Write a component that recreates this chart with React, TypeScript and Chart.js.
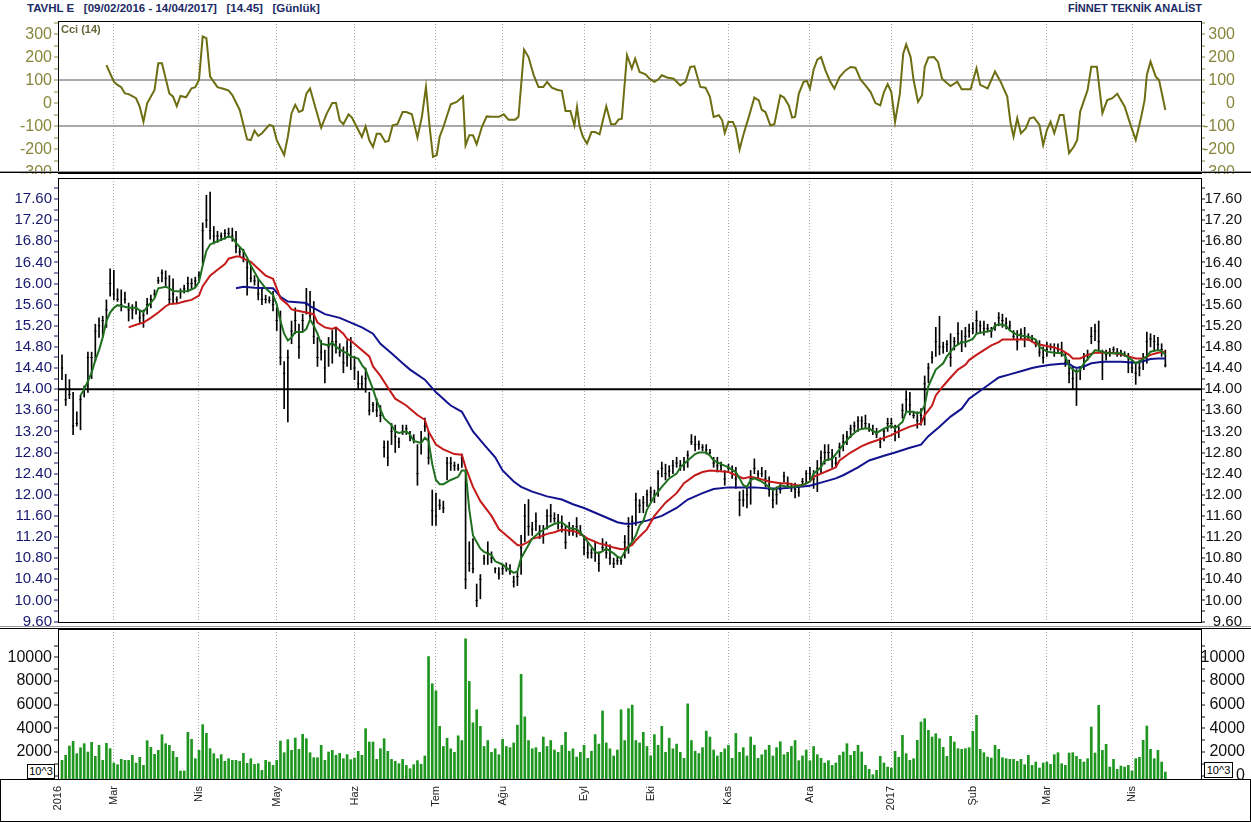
import { useEffect, useRef } from "react";
import { Chart, registerables } from "chart.js";

Chart.register(...registerables);

const FONT = '"Liberation Sans", Arial, Helvetica, sans-serif';

// ---------- axis labels ----------
// x = trading-day index (0 = first bar of the period)
const monthTicks = [-1, 14, 37, 58, 79, 101, 119, 141, 159, 180, 202, 224, 246, 266, 289];
const monthLabels = ["2016", "Mar", "Nis", "May", "Haz", "Tem", "Ağu", "Eyl", "Eki", "Kas", "Ara", "2017", "Şub", "Mar", "Nis"];
const cciTickLabels = [-300, -200, -100, 0, 100, 200, 300];
const cciBands = [100, -100];
const priceTickLabels = [9.6, 10.0, 10.4, 10.8, 11.2, 11.6, 12.0, 12.4, 12.8, 13.2, 13.6, 14.0, 14.4, 14.8, 15.2, 15.6, 16.0, 16.4, 16.8, 17.2, 17.6];
const volumeTickLabels = [0, 2000, 4000, 6000, 8000, 10000];
const supportLevel = 14.0;

// ---------- price bars ----------
const high = [
  14.65, 14.28, 14.18, 13.94, 13.57, 13.88, 14.06, 14.70, 14.70, 15.23,
  15.35, 15.38, 15.69, 16.28, 16.25, 15.90, 15.88, 15.84, 15.63, 15.60,
  15.66, 15.48, 15.50, 15.72, 15.78, 15.88, 16.12, 16.26, 16.24, 16.15,
  16.09, 15.75, 15.90, 15.97, 16.12, 16.09, 16.12, 16.22, 17.15, 17.67,
  17.73, 17.08, 16.99, 16.96, 17.02, 17.05, 17.05, 16.99, 16.68, 16.65,
  16.45, 16.34, 16.15, 16.09, 15.91, 15.78, 15.75, 15.85, 15.54, 15.48,
  14.52, 14.74, 15.29, 15.54, 15.23, 15.42, 15.91, 15.85, 15.66, 14.98,
  14.92, 14.74, 14.98, 15.11, 15.17, 14.86, 14.80, 14.92, 14.98, 14.62,
  14.34, 14.25, 14.40, 13.94, 13.75, 13.82, 13.69, 13.02, 13.02, 13.35,
  13.32, 13.08, 13.32, 13.32, 13.20, 13.14, 12.95, 13.20, 13.45, 13.20,
  12.09, 12.03, 11.91, 11.88, 12.71, 12.71, 12.62, 12.58, 12.77, 12.46,
  11.11, 11.17, 10.31, 10.49, 10.86, 11.11, 10.92, 10.62, 10.62, 10.68,
  10.71, 10.68, 10.46, 10.55, 11.23, 11.82, 11.91, 11.48, 11.66, 11.42,
  11.42, 11.72, 11.82, 11.66, 11.63, 11.60, 11.42, 11.48, 11.42, 11.57,
  11.42, 11.23, 11.11, 10.98, 11.11, 10.92, 11.17, 11.11, 11.05, 10.80,
  10.83, 10.80, 11.23, 11.57, 11.60, 12.03, 11.91, 11.97, 12.09, 12.15,
  12.09, 12.46, 12.62, 12.58, 12.55, 12.65, 12.71, 12.65, 12.71, 12.83,
  13.14, 13.11, 13.02, 12.95, 12.95, 12.86, 12.71, 12.71, 12.62, 12.46,
  12.58, 12.55, 12.52, 12.06, 12.09, 12.15, 12.46, 12.68, 12.46, 12.52,
  12.46, 12.34, 12.09, 12.15, 12.22, 12.43, 12.34, 12.22, 12.22, 12.15,
  12.31, 12.46, 12.52, 12.46, 12.65, 12.83, 12.95, 12.95, 12.86, 12.71,
  12.98, 13.14, 13.20, 13.32, 13.38, 13.48, 13.48, 13.51, 13.35, 13.32,
  13.26, 13.08, 13.26, 13.45, 13.45, 13.32, 13.29, 13.72, 13.97, 13.94,
  13.57, 13.57, 13.63, 14.25, 14.49, 14.71, 15.17, 15.38, 14.89, 14.92,
  15.05, 14.98, 15.26, 15.11, 15.17, 15.23, 15.26, 15.48, 15.29, 15.29,
  15.23, 15.17, 15.26, 15.45, 15.42, 15.35, 15.29, 15.11, 15.11, 15.14,
  15.17, 15.05, 15.02, 14.92, 14.92, 14.80, 14.89, 14.86, 14.86, 14.86,
  14.89, 14.68, 14.55, 14.43, 14.37, 14.43, 14.68, 14.74, 15.17, 15.23,
  15.29, 14.74, 14.74, 14.77, 14.80, 14.77, 14.74, 14.71, 14.68, 14.55,
  14.49, 14.55, 14.68, 15.08, 15.05, 15.02, 14.98, 14.86, 14.74,
];

const low = [
  14.18, 13.69, 13.82, 13.14, 13.30, 13.23, 13.85, 13.94, 14.20, 14.52,
  14.98, 15.00, 15.17, 15.76, 15.69, 15.66, 15.48, 15.63, 15.29, 15.33,
  15.42, 15.26, 15.17, 15.42, 15.54, 15.75, 16.00, 16.03, 15.96, 15.60,
  15.63, 15.63, 15.72, 15.82, 15.84, 15.90, 15.94, 16.03, 16.37, 17.06,
  16.84, 16.75, 16.78, 16.81, 16.84, 16.87, 16.80, 16.58, 16.53, 16.41,
  15.78, 16.03, 15.97, 15.69, 15.60, 15.63, 15.63, 15.48, 15.11, 14.46,
  13.63, 13.38, 14.86, 15.05, 14.58, 15.11, 15.42, 15.29, 14.86, 14.43,
  14.55, 14.12, 14.43, 14.49, 14.68, 14.62, 14.31, 14.43, 14.37, 14.18,
  14.00, 14.00, 13.94, 13.51, 13.57, 13.48, 13.38, 12.71, 12.55, 12.95,
  12.80, 12.89, 13.14, 13.14, 13.02, 12.98, 12.18, 12.77, 13.20, 12.58,
  11.42, 11.42, 11.72, 11.66, 12.28, 12.46, 12.46, 12.46, 12.52, 10.22,
  10.55, 10.52, 9.88, 10.03, 10.68, 10.68, 10.71, 10.52, 10.40, 10.49,
  10.55, 10.49, 10.25, 10.28, 10.49, 11.11, 11.23, 11.23, 11.32, 11.17,
  11.08, 11.35, 11.48, 11.48, 11.35, 11.29, 10.98, 11.23, 11.23, 11.20,
  11.23, 10.86, 10.80, 10.80, 10.74, 10.55, 10.92, 10.80, 10.68, 10.62,
  10.68, 10.68, 10.80, 10.89, 11.11, 11.42, 11.66, 11.66, 11.78, 11.85,
  11.85, 11.97, 12.34, 12.28, 12.34, 12.40, 12.52, 12.46, 12.46, 12.52,
  12.95, 12.83, 12.86, 12.83, 12.77, 12.77, 12.52, 12.43, 12.46, 12.18,
  12.46, 12.31, 12.12, 11.60, 11.78, 11.75, 11.82, 12.40, 12.31, 12.34,
  12.15, 11.97, 11.75, 11.82, 12.03, 12.25, 12.12, 12.06, 11.94, 11.97,
  12.15, 12.22, 12.28, 12.12, 12.06, 12.40, 12.58, 12.65, 12.52, 12.52,
  12.71, 12.83, 12.95, 13.08, 13.20, 13.20, 13.26, 13.26, 13.20, 13.14,
  13.08, 12.89, 13.02, 13.20, 13.26, 13.02, 13.08, 13.45, 13.57, 13.51,
  13.45, 13.26, 13.32, 13.32, 14.12, 14.49, 14.62, 14.65, 14.68, 14.71,
  14.43, 14.74, 14.86, 14.71, 14.80, 14.98, 15.05, 15.05, 15.08, 15.02,
  15.08, 14.98, 15.11, 15.20, 15.17, 15.14, 15.11, 14.95, 14.74, 14.95,
  14.80, 14.92, 14.89, 14.80, 14.62, 14.49, 14.62, 14.74, 14.62, 14.68,
  14.62, 14.43, 14.12, 14.00, 13.69, 14.18, 14.37, 14.55, 14.86, 14.92,
  14.74, 14.18, 14.55, 14.62, 14.68, 14.62, 14.62, 14.62, 14.31, 14.31,
  14.09, 14.25, 14.37, 14.49, 14.80, 14.74, 14.74, 14.62, 14.42,
];

const close = [
  14.40, 13.80, 13.90, 13.30, 13.35, 13.80, 14.00, 14.60, 14.60, 15.10,
  15.20, 15.30, 15.50, 16.00, 15.80, 15.70, 15.60, 15.70, 15.50, 15.50,
  15.55, 15.35, 15.40, 15.60, 15.70, 15.80, 16.05, 16.20, 16.10, 15.70,
  15.80, 15.70, 15.85, 15.90, 16.00, 16.00, 16.05, 16.15, 17.00, 17.20,
  17.00, 16.90, 16.90, 16.90, 16.95, 16.95, 16.90, 16.70, 16.60, 16.50,
  16.30, 16.10, 16.05, 15.80, 15.70, 15.70, 15.68, 15.60, 15.30, 14.60,
  14.30, 14.60, 15.10, 15.30, 14.80, 15.30, 15.60, 15.40, 15.00, 14.60,
  14.70, 14.40, 14.80, 14.90, 14.90, 14.70, 14.50, 14.60, 14.80, 14.40,
  14.10, 14.10, 14.20, 13.60, 13.70, 13.60, 13.50, 12.90, 12.70, 13.20,
  13.10, 13.00, 13.20, 13.25, 13.10, 13.05, 12.40, 13.00, 13.30, 12.70,
  11.70, 11.60, 11.80, 11.75, 12.60, 12.60, 12.55, 12.50, 12.70, 10.40,
  10.70, 10.60, 10.00, 10.40, 10.80, 10.90, 10.80, 10.60, 10.50, 10.60,
  10.60, 10.55, 10.35, 10.45, 11.00, 11.60, 11.40, 11.35, 11.50, 11.30,
  11.25, 11.60, 11.60, 11.55, 11.50, 11.40, 11.10, 11.30, 11.35, 11.40,
  11.30, 11.00, 10.90, 10.90, 10.90, 10.70, 11.00, 10.90, 10.80, 10.70,
  10.75, 10.75, 11.10, 11.40, 11.50, 11.90, 11.80, 11.85, 12.00, 12.05,
  12.00, 12.40, 12.50, 12.40, 12.45, 12.55, 12.60, 12.55, 12.60, 12.75,
  13.00, 12.95, 12.95, 12.90, 12.85, 12.80, 12.60, 12.55, 12.55, 12.30,
  12.50, 12.40, 12.30, 11.90, 11.90, 12.00, 12.30, 12.50, 12.40, 12.40,
  12.30, 12.10, 11.90, 12.00, 12.10, 12.35, 12.20, 12.15, 12.10, 12.05,
  12.25, 12.40, 12.40, 12.30, 12.50, 12.70, 12.80, 12.80, 12.70, 12.60,
  12.90, 13.00, 13.10, 13.25, 13.30, 13.40, 13.40, 13.35, 13.25, 13.20,
  13.15, 13.00, 13.20, 13.35, 13.35, 13.20, 13.20, 13.60, 13.80, 13.70,
  13.50, 13.40, 13.50, 14.10, 14.40, 14.60, 14.90, 14.80, 14.80, 14.85,
  14.60, 14.90, 15.05, 14.90, 15.00, 15.10, 15.15, 15.30, 15.20, 15.15,
  15.15, 15.10, 15.20, 15.35, 15.30, 15.25, 15.20, 15.00, 14.90, 15.05,
  14.95, 15.00, 14.95, 14.85, 14.70, 14.60, 14.75, 14.80, 14.70, 14.75,
  14.70, 14.50, 14.30, 14.20, 14.00, 14.35, 14.60, 14.65, 15.00, 15.10,
  14.90, 14.50, 14.65, 14.70, 14.75, 14.70, 14.70, 14.65, 14.50, 14.40,
  14.30, 14.40, 14.55, 14.90, 14.95, 14.90, 14.85, 14.75, 14.45,
];

// ---------- volume (x 10^3) ----------
const volume = [
  1325, 1748, 2538, 2933, 1889, 2397, 2735, 2030, 2848, 1664,
  2594, 1325, 2764, 2312, 1100, 959, 1410, 1325, 1325, 1748,
  1100, 1579, 902, 2989, 2425, 1833, 2171, 3497, 2735, 2594,
  2087, 1579, 423, 423, 3694, 3102, 1466, 2171, 4343, 3610,
  2312, 1889, 1466, 1805, 1241, 1466, 1325, 1325, 1241, 1918,
  1072, 1466, 987, 1043, 479, 1325, 1184, 902, 1325, 2961,
  1974, 3074, 2171, 3215, 2256, 3525, 3158, 1974, 1551, 1551,
  2594, 1325, 2030, 2171, 1748, 1918, 1466, 1805, 1382, 1523,
  2087, 1748, 4004, 2876, 2876, 1410, 2312, 3158, 2087, 1410,
  1241, 1043, 1410, 902, 620, 959, 1300, 1000, 1700, 10100,
  7800, 7200, 4200, 2500, 3200, 2300, 2000, 3400, 3000, 11600,
  8000, 4500, 5600, 4200, 2500, 3000, 2000, 2300, 1800, 3100,
  2500, 2400, 2800, 4300, 8600, 5000, 3000, 2300, 2400, 2000,
  3300, 2500, 3000, 2200, 2000, 2600, 3700, 2100, 2300, 1600,
  2000, 2600, 1500, 2100, 3500, 2700, 5500, 2800, 2300, 1700,
  2200, 5600, 3000, 5700, 6000, 3000, 2800, 3700, 2500, 1700,
  3500, 2600, 4200, 2000, 3200, 2300, 2700, 2000, 1500, 6100,
  3000, 2100, 1900, 2400, 3800, 3300, 2200, 1700, 2000, 2300,
  2600, 1500, 3600, 2000, 2400, 1700, 3300, 2600, 1500, 1800,
  2200, 2600, 1700, 2400, 2900, 1800, 2000, 2500, 3000, 1300,
  1700, 2200, 1300, 2500, 1800, 1500, 1100, 1300, 902, 1100,
  1748, 2030, 2735, 1748, 2087, 2594, 2030, 902, 564, 113,
  479, 1664, 1100, 761, 677, 2087, 1579, 3440, 1889, 1325,
  1466, 3017, 4568, 4850, 3863, 3300, 3581, 3158, 2425, 1664,
  3356, 2876, 2312, 2256, 2312, 2397, 3779, 5132, 2256, 1974,
  1607, 1523, 2594, 2256, 1551, 1466, 1410, 1410, 1241, 1410,
  959, 1748, 902, 1184, 677, 1100, 1184, 987, 1805, 1974,
  1043, 902, 1946, 1974, 1664, 1410, 1184, 1466, 4145, 1946,
  5978, 2171, 2679, 761, 1410, 564, 846, 761, 902, 423,
  1466, 1579, 3017, 4230, 2256, 1466, 2171, 1184, 338,
];

// ---------- moving averages [day, value] ----------
const maShort: [number, number][] = [
  [5, 13.88], [6, 14.0], [7, 14.15], [8, 14.31], [9, 14.55], [10, 14.74], [11, 14.98], [12, 15.29], [13, 15.45], [14, 15.54],
  [15, 15.59], [17, 15.56], [18, 15.54], [20, 15.54], [21, 15.49], [22, 15.46], [23, 15.56], [25, 15.72], [26, 15.91], [28, 15.94],
  [29, 15.91], [30, 15.86], [32, 15.85], [34, 15.86], [36, 15.92], [37, 16.03], [38, 16.34], [39, 16.62], [40, 16.74], [42, 16.8],
  [44, 16.86], [45, 16.89], [46, 16.87], [47, 16.77], [49, 16.62], [50, 16.49], [51, 16.34], [53, 16.09], [55, 15.91], [57, 15.78],
  [58, 15.6], [59, 15.29], [60, 15.05], [61, 14.92], [62, 14.98], [63, 15.08], [65, 15.08], [66, 15.14], [67, 15.32], [68, 15.2],
  [69, 15.05], [70, 14.86], [72, 14.83], [73, 14.88], [74, 14.8], [76, 14.71], [77, 14.68], [78, 14.62], [80, 14.58], [81, 14.46],
  [82, 14.37], [83, 14.18], [84, 14.0], [85, 13.78], [87, 13.45], [89, 13.32], [90, 13.2], [91, 13.17], [93, 13.2], [94, 13.14],
  [95, 13.02], [97, 12.98], [98, 13.08], [99, 13.02], [100, 12.58], [101, 12.28], [102, 12.2], [103, 12.2], [105, 12.28], [107, 12.34],
  [108, 12.46], [109, 12.46], [110, 11.72], [111, 11.23], [113, 10.98], [114, 10.92], [116, 10.86], [117, 10.74], [119, 10.68], [120, 10.62],
  [122, 10.52], [123, 10.55], [124, 10.8], [126, 11.05], [127, 11.17], [129, 11.29], [131, 11.38], [133, 11.45], [135, 11.48], [136, 11.42],
  [137, 11.37], [139, 11.35], [140, 11.29], [142, 11.11], [144, 10.92], [145, 10.89], [147, 10.98], [149, 10.89], [150, 10.83], [151, 10.8],
  [152, 10.92], [154, 11.11], [155, 11.23], [156, 11.42], [157, 11.5], [158, 11.72], [160, 11.97], [162, 12.15], [164, 12.31], [166, 12.4],
  [167, 12.52], [169, 12.65], [171, 12.77], [172, 12.8], [174, 12.8], [175, 12.74], [176, 12.65], [178, 12.58], [180, 12.52], [182, 12.43],
  [183, 12.31], [184, 12.18], [185, 12.15], [186, 12.28], [187, 12.31], [189, 12.25], [190, 12.2], [192, 12.09], [193, 12.12], [194, 12.18],
  [196, 12.15], [198, 12.15], [200, 12.18], [202, 12.25], [203, 12.4], [205, 12.52], [206, 12.65], [208, 12.68], [209, 12.77], [211, 12.95],
  [213, 13.11], [215, 13.23], [217, 13.26], [218, 13.25], [220, 13.17], [222, 13.25], [224, 13.31], [225, 13.26], [227, 13.38], [228, 13.57],
  [230, 13.57], [231, 13.54], [232, 13.57], [233, 13.69], [234, 14.06], [236, 14.37], [238, 14.49], [239, 14.62], [241, 14.8], [243, 14.89],
  [244, 14.89], [246, 14.95], [247, 15.05], [249, 15.08], [251, 15.11], [252, 15.2], [253, 15.23], [255, 15.2], [256, 15.11], [258, 15.03],
  [260, 15.0], [262, 14.97], [263, 14.94], [264, 14.8], [266, 14.71], [268, 14.69], [270, 14.68], [271, 14.62], [272, 14.43], [274, 14.32],
  [275, 14.37], [276, 14.49], [278, 14.65], [279, 14.74], [281, 14.71], [282, 14.68], [286, 14.68], [287, 14.65], [289, 14.55], [290, 14.49],
  [291, 14.52], [293, 14.62], [294, 14.71], [296, 14.74], [297, 14.72], [298, 14.65],
];

const maMid: [number, number][] = [
  [18, 15.17], [20, 15.22], [22, 15.26], [24, 15.35], [26, 15.45], [28, 15.57], [29, 15.61], [31, 15.62], [33, 15.66], [35, 15.69],
  [37, 15.77], [38, 15.95], [40, 16.15], [42, 16.26], [44, 16.37], [45, 16.47], [47, 16.51], [48, 16.51], [49, 16.47], [51, 16.41],
  [53, 16.28], [55, 16.15], [57, 16.09], [58, 15.91], [59, 15.72], [61, 15.6], [62, 15.51], [64, 15.48], [66, 15.45], [68, 15.42],
  [69, 15.26], [71, 15.17], [73, 15.14], [74, 15.17], [76, 15.05], [77, 14.95], [78, 14.92], [80, 14.8], [83, 14.62], [84, 14.43],
  [86, 14.25], [88, 14.03], [90, 13.82], [93, 13.69], [94, 13.63], [96, 13.51], [98, 13.42], [99, 13.2], [101, 12.95], [103, 12.86],
  [106, 12.77], [108, 12.76], [109, 12.52], [111, 12.15], [113, 11.88], [116, 11.6], [118, 11.35], [121, 11.17], [123, 11.05], [124, 11.04],
  [126, 11.11], [127, 11.17], [129, 11.2], [131, 11.26], [133, 11.29], [135, 11.34], [137, 11.32], [138, 11.32], [140, 11.26], [142, 11.17],
  [144, 11.11], [145, 11.08], [147, 11.05], [149, 11.0], [151, 10.97], [152, 10.98], [154, 11.05], [155, 11.14], [158, 11.35], [160, 11.6],
  [163, 11.85], [166, 12.03], [168, 12.22], [171, 12.37], [173, 12.43], [175, 12.46], [177, 12.45], [180, 12.43], [182, 12.37], [184, 12.31],
  [186, 12.34], [188, 12.31], [191, 12.25], [194, 12.22], [196, 12.22], [198, 12.18], [200, 12.18], [202, 12.25], [203, 12.34], [205, 12.4],
  [207, 12.46], [209, 12.52], [210, 12.65], [213, 12.8], [216, 12.92], [218, 12.98], [221, 13.05], [224, 13.13], [226, 13.2], [229, 13.29],
  [232, 13.35], [233, 13.51], [235, 13.69], [236, 13.88], [238, 14.06], [240, 14.22], [242, 14.37], [244, 14.46], [245, 14.55], [247, 14.65],
  [249, 14.74], [251, 14.83], [253, 14.89], [254, 14.94], [258, 14.94], [261, 14.94], [263, 14.86], [265, 14.83], [268, 14.79], [270, 14.74],
  [272, 14.65], [273, 14.58], [275, 14.58], [277, 14.65], [279, 14.69], [283, 14.69], [286, 14.66], [288, 14.62], [290, 14.58], [292, 14.58],
  [294, 14.65], [296, 14.69], [298, 14.71],
];

const maLong: [number, number][] = [
  [47, 15.91], [49, 15.94], [52, 15.92], [57, 15.91], [59, 15.75], [61, 15.66], [66, 15.63], [67, 15.57], [71, 15.42], [75, 15.35],
  [78, 15.26], [81, 15.17], [84, 15.05], [86, 14.86], [89, 14.68], [92, 14.49], [94, 14.37], [98, 14.18], [101, 13.94], [102, 13.88],
  [104, 13.75], [105, 13.69], [108, 13.57], [111, 13.2], [114, 12.95], [117, 12.71], [119, 12.46], [122, 12.25], [124, 12.15], [127, 12.06],
  [131, 11.97], [135, 11.91], [138, 11.82], [141, 11.75], [144, 11.66], [147, 11.57], [150, 11.48], [152, 11.45], [154, 11.45], [158, 11.51],
  [162, 11.6], [166, 11.75], [169, 11.91], [173, 12.03], [176, 12.11], [180, 12.14], [184, 12.14], [187, 12.14], [191, 12.12], [194, 12.12],
  [198, 12.14], [202, 12.17], [205, 12.23], [209, 12.31], [211, 12.37], [215, 12.52], [218, 12.65], [222, 12.74], [225, 12.8], [229, 12.89],
  [232, 12.95], [234, 13.11], [237, 13.29], [240, 13.48], [243, 13.63], [245, 13.82], [248, 13.97], [251, 14.12], [253, 14.22], [256, 14.28],
  [259, 14.34], [262, 14.4], [264, 14.43], [267, 14.46], [270, 14.48], [272, 14.48], [273, 14.43], [274, 14.4], [276, 14.43], [278, 14.49],
  [281, 14.52], [286, 14.52], [290, 14.5], [292, 14.53], [294, 14.57], [296, 14.58], [298, 14.58],
];

// ---------- CCI (14) [day, value] ----------
const cciValues: [number, number][] = [
  [12, 166], [14, 94], [15, 80], [16, 70], [17, 43], [18, 40], [20, 22], [21, -15], [22, -80], [23, 0],
  [25, 58], [26, 174], [27, 174], [29, 43], [30, 29], [31, -12], [32, 32], [33.5, 26], [35, 65], [36, 70],
  [37, 101], [38, 290], [39, 283], [40, 116], [42, 70], [44, 61], [45, 55], [46, 36], [48, -29], [50, -157],
  [51, -160], [52, -119], [53, -142], [54, -130], [56, -94], [57, -99], [58, -160], [60, -225], [61, -145], [62, -43],
  [63, -7], [64, -38], [65, -30], [66, 42], [67, 64], [68.4, -16], [70, -106], [71.5, -45], [73, 1], [74, 1],
  [75, -74], [76, -91], [77.4, -48], [78.3, -62], [79.6, -103], [81, -146], [82, -100], [83, -161], [84, -190], [85, -132],
  [86, -132], [87.3, -168], [88.2, -164], [89.3, -96], [90.6, -91], [92, -38], [93, -38], [94.5, -48], [96, -149], [97.2, -59],
  [98.3, 71], [99.3, -103], [100.2, -233], [101.2, -226], [102, -146], [103, -103], [105, -4], [106.6, 6], [108.3, 30], [109, -183],
  [110, -139], [111, -139], [112, -178], [113.4, -103], [114.7, -57], [116, -59], [118, -59], [119.3, -48], [120.6, -71], [122.4, -71],
  [123.3, -59], [124.8, 233], [126, 201], [127.4, 122], [128.7, 71], [130, 71], [131, 93], [132.3, 68], [133.7, 59], [135, 54],
  [136, -33], [137.3, -33], [138.4, -96], [139.1, -16], [139.8, -100], [140.7, -146], [141.8, -175], [143, -125], [144, -125], [145.2, -135],
  [147, -13], [148.3, -91], [149.4, -91], [150.3, -71], [151.2, -67], [152.6, 209], [153.9, 151], [154.8, 194], [156, 136], [157.6, 126],
  [158.7, 107], [160, 93], [161, 103], [162, 122], [163.4, 112], [165.2, 107], [167, 78], [168.4, 93], [169.7, 158], [170.8, 161],
  [172.4, 71], [173.8, 68], [175, 28], [176, -59], [177.4, -52], [178.3, -74], [179, -129], [180, -81], [181.2, -81], [182, -110],
  [183, -201], [184, -139], [185.5, -59], [187, 25], [188.2, 13], [189, -28], [190, -38], [191.3, -96], [192.4, -91], [194, 35],
  [195, 25], [196.3, -9], [197.2, -62], [198, -59], [199, 42], [200.3, 93], [201.2, 97], [202, 64], [203, 146], [204, 190],
  [205, 201], [206.2, 143], [207.4, 97], [208.6, 64], [210, 114], [211.6, 143], [213, 158], [214.3, 155], [215.7, 103], [217, 78],
  [218.4, 49], [219.7, 1], [221, -9], [222, 49], [223, 83], [224, 49], [225, -81], [226.3, 42], [227.2, 216], [228, 256],
  [229.2, 201], [230, 101], [231.2, 6], [232.3, 35], [233, 158], [234, 199], [235.5, 201], [236.6, 180], [237.7, 107], [239, 88],
  [240, 75], [241.8, 94], [243, 61], [245.4, 61], [247, 152], [248, 80], [250, 65], [252, 138], [253.5, 94], [255.3, 29],
  [256.2, -87], [257, -145], [258, -65], [259, -130], [260.3, -109], [261.4, -65], [262.5, -61], [264, -94], [265, -181], [266, -116],
  [267, -80], [268, -130], [269.5, -51], [270.5, -51], [272, -217], [273.3, -188], [274.2, -159], [275, -36], [277, 58], [278, 159],
  [279.5, 159], [281, -43], [282.3, 14], [283.7, 22], [285, 41], [287, -14], [288.6, -94], [290, -159], [291.4, -65], [292.4, 14],
  [293, 123], [294, 181], [295.4, 116], [296.3, 101], [298, -29],
];

// ---------- layout ----------
const PAGE_W = 1251;
const PLOT_LEFT = 58;
const PLOT_RIGHT = 1202;
const X_MIN = -1.08;
const X_MAX = 307.9;

const framePlugin = {
  id: "panelFrame",
  afterDraw(chart: any) {
    const { ctx, chartArea } = chart;
    const { left, top, right, bottom } = chartArea;
    ctx.save();
    ctx.strokeStyle = "#000";
    ctx.lineWidth = 1;
    ctx.strokeRect(left + 0.5, top + 0.5, right - left - 1, bottom - top - 1);
    ctx.restore();
  },
};

function xScale(withLabels: boolean) {
  return {
    type: "linear",
    min: X_MIN,
    max: X_MAX,
    offset: false,
    afterBuildTicks: (s: any) => {
      s.ticks = monthTicks.map((v) => ({ value: v }));
    },
    afterFit: (s: any) => {
      s.height = withLabels ? 42 : 0;
      s.paddingLeft = 0;
      s.paddingRight = 0;
    },
    grid: { display: true, drawTicks: false, offset: false, color: "#a9a9a9", lineWidth: 1 },
    border: { display: false, dash: [1, 2] },
    ticks: withLabels
      ? {
          display: true,
          autoSkip: false,
          minRotation: 90,
          maxRotation: 90,
          padding: 6,
          color: "#222",
          font: { family: FONT, size: 11 },
          callback: (v: number) => {
            const k = monthTicks.indexOf(v);
            return k >= 0 ? monthLabels[k] : "";
          },
        }
      : { display: false },
  };
}

type AxisCfg = {
  min: number;
  max: number;
  labels: number[];
  step: number;
  fmt: (v: number) => string;
  size: number;
  leftColor: string;
  rightColor: string;
  rightEdge: number;
  bands?: number[];
};

function yAxes(a: AxisCfg) {
  const all = [...a.labels, ...a.labels.map((v) => v + a.step / 2)]
    .filter((v) => v >= a.min && v <= a.max)
    .sort((p, q) => p - q);
  const make = (side: "left" | "right") => ({
    type: "linear",
    position: side,
    min: a.min,
    max: a.max,
    afterBuildTicks: (s: any) => {
      s.ticks = all.map((v) => ({ value: v }));
    },
    afterFit: (s: any) => {
      s.width = side === "left" ? PLOT_LEFT : a.rightEdge - PLOT_RIGHT;
      s.paddingTop = 0;
      s.paddingBottom = 0;
    },
    border: { display: false },
    grid: {
      drawOnChartArea: side === "left" && !!a.bands,
      color: (c: any) => (a.bands && c.tick && a.bands.includes(c.tick.value) ? "#a8a8a8" : "rgba(0,0,0,0)"),
      lineWidth: 2,
      drawTicks: true,
      tickLength: side === "left" ? 4 : 3,
      tickWidth: 1,
      tickColor: side === "left" ? a.leftColor : a.rightColor,
    },
    ticks: {
      autoSkip: false,
      padding: side === "left" ? 2 : 1,
      crossAlign: side === "left" ? "near" : "far",
      color: side === "left" ? a.leftColor : a.rightColor,
      font: { family: FONT, size: a.size },
      callback: (v: number) => (a.labels.includes(v) ? a.fmt(v) : ""),
    },
  });
  return { yL: make("left"), yR: make("right") };
}

function baseOptions(a: AxisCfg, withLabels: boolean) {
  return {
    responsive: false,
    maintainAspectRatio: false,
    animation: false,
    devicePixelRatio: 1,
    events: [],
    layout: { padding: { left: 0, top: 0, bottom: 0, right: PAGE_W - a.rightEdge } },
    plugins: { legend: { display: false }, tooltip: { enabled: false } },
    scales: { x: xScale(withLabels), ...yAxes(a) },
  };
}

const cciAxis: AxisCfg = {
  min: -307.4, max: 357.8, labels: cciTickLabels, step: 100, fmt: (v) => String(v), size: 16,
  leftColor: "#86863c", rightColor: "#86863c", rightEdge: 1235, bands: cciBands,
};
const priceAxis: AxisCfg = {
  min: 9.572, max: 17.998, labels: priceTickLabels, step: 0.4, fmt: (v) => v.toFixed(2), size: 15,
  leftColor: "#17176e", rightColor: "#111", rightEdge: 1242,
};
const volumeAxis: AxisCfg = {
  min: -363, max: 12401, labels: volumeTickLabels, step: 2000, fmt: (v) => String(v), size: 16,
  leftColor: "#111", rightColor: "#111", rightEdge: 1245,
};

const line = (pts: [number, number][], color: string, order: number) => ({
  type: "line",
  data: pts.map(([x, y]) => ({ x, y })),
  borderColor: color,
  borderWidth: 2,
  pointRadius: 0,
  tension: 0,
  order,
  xAxisID: "x",
  yAxisID: "yL",
});

export default function App() {
  const cciRef = useRef<HTMLCanvasElement>(null);
  const priceRef = useRef<HTMLCanvasElement>(null);
  const volRef = useRef<HTMLCanvasElement>(null);

  useEffect(() => {
    Chart.defaults.font.family = FONT;
    const charts: Chart[] = [];

    charts.push(
      new Chart(cciRef.current as HTMLCanvasElement, {
        type: "line",
        data: { datasets: [line(cciValues, "#6d6d12", 1)] as any },
        options: baseOptions(cciAxis, false) as any,
        plugins: [framePlugin],
      })
    );

    charts.push(
      new Chart(priceRef.current as HTMLCanvasElement, {
        type: "line",
        data: {
          datasets: [
            {
              type: "bar",
              data: high.map((h, i) => ({ x: i, y: [low[i], h] })),
              backgroundColor: "#000",
              barThickness: 1,
              grouped: false,
              order: 10,
              xAxisID: "x",
              yAxisID: "yL",
            },
            {
              type: "line",
              data: close.map((c, i) => ({ x: i, y: c })),
              showLine: false,
              pointStyle: "line",
              pointRadius: 1.2,
              pointBorderColor: "#000",
              pointBorderWidth: 1,
              order: 9,
              xAxisID: "x",
              yAxisID: "yL",
            },
            {
              type: "line",
              data: [
                { x: X_MIN, y: supportLevel },
                { x: X_MAX, y: supportLevel },
              ],
              borderColor: "#000",
              borderWidth: 2,
              pointRadius: 0,
              order: 8,
              xAxisID: "x",
              yAxisID: "yL",
            },
            line(maLong, "#12128f", 3),
            line(maMid, "#c41a1a", 2),
            line(maShort, "#1f701f", 1),
          ] as any,
        },
        options: baseOptions(priceAxis, false) as any,
        plugins: [framePlugin],
      })
    );

    charts.push(
      new Chart(volRef.current as HTMLCanvasElement, {
        type: "line",
        data: {
          datasets: [
            {
              type: "bar",
              data: volume.map((v, i) => ({ x: i, y: v })),
              backgroundColor: "#1f961f",
              base: volumeAxis.min,
              categoryPercentage: 1,
              barPercentage: 0.72,
              grouped: false,
              xAxisID: "x",
              yAxisID: "yL",
            },
          ] as any,
        },
        options: baseOptions(volumeAxis, true) as any,
        plugins: [framePlugin],
      })
    );

    return () => charts.forEach((c) => c.destroy());
  }, []);

  const abs = (top: number, height: number) => ({
    position: "absolute" as const,
    left: 0,
    top,
    width: PAGE_W,
    height,
    display: "block",
  });

  return (
    <div
      style={{
        position: "fixed",
        left: 0,
        top: 0,
        width: PAGE_W,
        height: 822,
        background: "#fff",
        overflow: "hidden",
        fontFamily: FONT,
      }}
    >
      <div
        style={{
          position: "absolute",
          left: 27,
          top: 2,
          fontSize: 11.5,
          fontWeight: "bold",
          color: "#1b2a66",
          whiteSpace: "pre",
        }}
      >
        {"TAVHL E   [09/02/2016 - 14/04/2017]   [14.45]   [Günlük]"}
      </div>
      <div
        style={{
          position: "absolute",
          right: PAGE_W - PLOT_RIGHT,
          top: 2,
          fontSize: 11,
          fontWeight: "bold",
          color: "#1b2a66",
          whiteSpace: "pre",
        }}
      >
        FİNNET TEKNİK ANALİST
      </div>

      <canvas ref={cciRef} width={PAGE_W} height={153} style={abs(21, 153)} />
      <canvas ref={priceRef} width={PAGE_W} height={455} style={abs(173, 455)} />
      <canvas ref={volRef} width={PAGE_W} height={193} style={abs(629, 193)} />

      <div style={{ position: "absolute", left: 61, top: 23, fontSize: 11, fontWeight: "bold", color: "#66663a" }}>
        Cci (14)
      </div>

      {/* panel separators */}
      <div style={{ position: "absolute", left: 0, top: 171, width: PAGE_W, height: 1, background: "#9a9a9a" }} />
      <div style={{ position: "absolute", left: 0, top: 172, width: PAGE_W, height: 1, background: "#000" }} />
      <div style={{ position: "absolute", left: 0, top: 626, width: PAGE_W, height: 1, background: "#9a9a9a" }} />
      <div style={{ position: "absolute", left: 0, top: 628, width: PAGE_W, height: 1, background: "#000" }} />

      {/* date-axis box */}
      <div
        style={{
          position: "absolute",
          left: 0,
          top: 779,
          width: PAGE_W,
          height: 43,
          boxSizing: "border-box",
          border: "1px solid #000",
        }}
      />

      {/* volume unit boxes */}
      <div
        style={{
          position: "absolute",
          left: 27,
          top: 764,
          width: 28,
          height: 15,
          boxSizing: "border-box",
          border: "1px solid #000",
          background: "#fff",
          fontSize: 11,
          lineHeight: "13px",
          textAlign: "center",
          color: "#000",
        }}
      >
        10^3
      </div>
      <div
        style={{
          position: "absolute",
          left: 1204,
          top: 762,
          width: 29,
          height: 16,
          boxSizing: "border-box",
          border: "1px solid #000",
          background: "#fff",
          fontSize: 11,
          lineHeight: "14px",
          textAlign: "center",
          color: "#000",
        }}
      >
        10^3
      </div>
    </div>
  );
}
